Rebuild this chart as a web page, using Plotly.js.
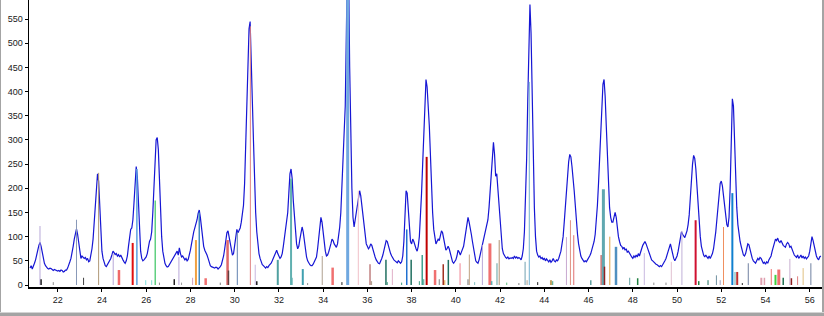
<!DOCTYPE html>
<html><head><meta charset="utf-8">
<script src="https://cdn.plot.ly/plotly-3.0.1.min.js"></script>
<style>
body{margin:0;background:#fff}
#wrap{position:relative;width:824px;height:316px;overflow:hidden;background:#fff}
#chart{position:absolute;left:0;top:0;width:824px;height:316px}
.b{position:absolute;background:#a4a4a4}
</style></head><body>
<div id="wrap"><div id="chart"></div>
<div class="b" style="left:0;top:0;width:1px;height:316px"></div>
<div class="b" style="left:822px;top:0;width:2px;height:316px"></div>
<div class="b" style="left:0;top:312px;width:824px;height:1px;background:#d4d4d4"></div>
<div class="b" style="left:0;top:313px;width:824px;height:3px"></div>
</div>
<script>
// 2-theta positions (degrees)
const twoTheta = [
20.75,20.8,20.85,20.9,20.95,
21,21.05,21.1,21.15,21.2,21.25,21.3,21.35,21.4,21.45,21.5,21.55,21.6,21.65,21.7,21.75,21.8,21.85,21.9,21.95,
22,22.05,22.1,22.15,22.2,22.25,22.3,22.35,22.4,22.45,22.5,22.55,22.6,22.65,22.7,22.75,22.8,22.85,22.9,22.95,
23,23.05,23.1,23.15,23.2,23.25,23.3,23.35,23.4,23.45,23.5,23.55,23.6,23.65,23.7,23.75,23.8,23.85,23.9,23.95,
24,24.05,24.1,24.15,24.2,24.25,24.3,24.35,24.4,24.45,24.5,24.55,24.6,24.65,24.7,24.75,24.8,24.85,24.9,24.95,
25,25.05,25.1,25.15,25.2,25.25,25.3,25.35,25.4,25.45,25.5,25.55,25.6,25.65,25.7,25.75,25.8,25.85,25.9,25.95,
26,26.05,26.1,26.15,26.2,26.25,26.3,26.35,26.4,26.45,26.5,26.55,26.6,26.65,26.7,26.75,26.8,26.85,26.9,26.95,
27,27.05,27.1,27.15,27.2,27.25,27.3,27.35,27.4,27.45,27.5,27.55,27.6,27.65,27.7,27.75,27.8,27.85,27.9,27.95,
28,28.05,28.1,28.15,28.2,28.25,28.3,28.35,28.4,28.45,28.5,28.55,28.6,28.65,28.7,28.75,28.8,28.85,28.9,28.95,
29,29.05,29.1,29.15,29.2,29.25,29.3,29.35,29.4,29.45,29.5,29.55,29.6,29.65,29.7,29.75,29.8,29.85,29.9,29.95,
30,30.05,30.1,30.15,30.2,30.25,30.3,30.35,30.4,30.45,30.5,30.55,30.6,30.65,30.7,30.75,30.8,30.85,30.9,30.95,
31,31.05,31.1,31.15,31.2,31.25,31.3,31.35,31.4,31.45,31.5,31.55,31.6,31.65,31.7,31.75,31.8,31.85,31.9,31.95,
32,32.05,32.1,32.15,32.2,32.25,32.3,32.35,32.4,32.45,32.5,32.55,32.6,32.65,32.7,32.75,32.8,32.85,32.9,32.95,
33,33.05,33.1,33.15,33.2,33.25,33.3,33.35,33.4,33.45,33.5,33.55,33.6,33.65,33.7,33.75,33.8,33.85,33.9,33.95,
34,34.05,34.1,34.15,34.2,34.25,34.3,34.35,34.4,34.45,34.5,34.55,34.6,34.65,34.7,34.75,34.8,34.85,34.9,34.95,
35,35.05,35.1,35.15,35.2,35.25,35.3,35.35,35.4,35.45,35.5,35.55,35.6,35.65,35.7,35.75,35.8,35.85,35.9,35.95,
36,36.05,36.1,36.15,36.2,36.25,36.3,36.35,36.4,36.45,36.5,36.55,36.6,36.65,36.7,36.75,36.8,36.85,36.9,36.95,
37,37.05,37.1,37.15,37.2,37.25,37.3,37.35,37.4,37.45,37.5,37.55,37.6,37.65,37.7,37.75,37.8,37.85,37.9,37.95,
38,38.05,38.1,38.15,38.2,38.25,38.3,38.35,38.4,38.45,38.5,38.55,38.6,38.65,38.7,38.75,38.8,38.85,38.9,38.95,
39,39.05,39.1,39.15,39.2,39.25,39.3,39.35,39.4,39.45,39.5,39.55,39.6,39.65,39.7,39.75,39.8,39.85,39.9,39.95,
40,40.05,40.1,40.15,40.2,40.25,40.3,40.35,40.4,40.45,40.5,40.55,40.6,40.65,40.7,40.75,40.8,40.85,40.9,40.95,
41,41.05,41.1,41.15,41.2,41.25,41.3,41.35,41.4,41.45,41.5,41.55,41.6,41.65,41.7,41.75,41.8,41.85,41.9,41.95,
42,42.05,42.1,42.15,42.2,42.25,42.3,42.35,42.4,42.45,42.5,42.55,42.6,42.65,42.7,42.75,42.8,42.85,42.9,42.95,
43,43.05,43.1,43.15,43.2,43.25,43.3,43.35,43.4,43.45,43.5,43.55,43.6,43.65,43.7,43.75,43.8,43.85,43.9,43.95,
44,44.05,44.1,44.15,44.2,44.25,44.3,44.35,44.4,44.45,44.5,44.55,44.6,44.65,44.7,44.75,44.8,44.85,44.9,44.95,
45,45.05,45.1,45.15,45.2,45.25,45.3,45.35,45.4,45.45,45.5,45.55,45.6,45.65,45.7,45.75,45.8,45.85,45.9,45.95,
46,46.05,46.1,46.15,46.2,46.25,46.3,46.35,46.4,46.45,46.5,46.55,46.6,46.65,46.7,46.75,46.8,46.85,46.9,46.95,
47,47.05,47.1,47.15,47.2,47.25,47.3,47.35,47.4,47.45,47.5,47.55,47.6,47.65,47.7,47.75,47.8,47.85,47.9,47.95,
48,48.05,48.1,48.15,48.2,48.25,48.3,48.35,48.4,48.45,48.5,48.55,48.6,48.65,48.7,48.75,48.8,48.85,48.9,48.95,
49,49.05,49.1,49.15,49.2,49.25,49.3,49.35,49.4,49.45,49.5,49.55,49.6,49.65,49.7,49.75,49.8,49.85,49.9,49.95,
50,50.05,50.1,50.15,50.2,50.25,50.3,50.35,50.4,50.45,50.5,50.55,50.6,50.65,50.7,50.75,50.8,50.85,50.9,50.95,
51,51.05,51.1,51.15,51.2,51.25,51.3,51.35,51.4,51.45,51.5,51.55,51.6,51.65,51.7,51.75,51.8,51.85,51.9,51.95,
52,52.05,52.1,52.15,52.2,52.25,52.3,52.35,52.4,52.45,52.5,52.55,52.6,52.65,52.7,52.75,52.8,52.85,52.9,52.95,
53,53.05,53.1,53.15,53.2,53.25,53.3,53.35,53.4,53.45,53.5,53.55,53.6,53.65,53.7,53.75,53.8,53.85,53.9,53.95,
54,54.05,54.1,54.15,54.2,54.25,54.3,54.35,54.4,54.45,54.5,54.55,54.6,54.65,54.7,54.75,54.8,54.85,54.9,54.95,
55,55.05,55.1,55.15,55.2,55.25,55.3,55.35,55.4,55.45,55.5,55.55,55.6,55.65,55.7,55.75,55.8,55.85,55.9,55.95,
56,56.05,56.1,56.15,56.2,56.25,56.3,56.35,56.4,56.45,56.5
];
const counts = [
35,40,33,42,45,
52,60,72,82,88,80,65,52,45,40,36,34,33,35,34,31,30,32,31,29,
29,30,28,31,30,27,28,31,31,35,40,48,55,65,80,95,108,116,105,85,
65,55,60,58,55,57,52,55,48,50,60,75,95,130,170,210,230,215,170,110,
70,55,45,40,38,42,45,50,55,62,70,67,63,65,60,63,58,62,55,52,
48,45,50,60,80,100,115,118,135,170,215,245,225,170,110,70,55,50,52,55,
58,65,78,90,95,110,150,210,270,300,305,280,220,150,100,70,55,45,40,37,
38,42,45,50,55,58,62,65,70,62,77,65,58,60,57,52,55,50,53,60,
72,85,100,110,118,125,135,148,155,140,115,95,80,72,68,62,55,45,40,38,
37,36,35,37,36,33,35,38,42,50,60,75,95,108,112,100,85,70,62,65,
80,100,115,108,112,118,130,145,165,210,290,380,460,530,545,480,380,300,210,150,
110,85,65,55,48,42,40,37,35,38,36,40,42,45,50,55,60,65,72,65,
60,55,58,65,80,100,120,130,150,190,230,240,220,175,140,110,85,75,80,95,
110,120,110,90,70,58,50,45,42,40,40,43,47,52,58,75,95,120,140,130,
105,85,70,60,62,68,75,85,95,92,85,80,78,85,100,120,150,200,260,310,
370,520,680,660,450,300,200,140,120,135,150,170,185,195,185,165,140,115,95,85,
80,75,78,85,82,72,65,58,52,48,45,44,48,55,62,72,85,92,90,80,
72,65,60,55,52,50,48,46,50,47,45,48,60,90,140,195,190,150,110,90,
85,95,90,80,75,70,80,100,140,190,250,320,390,425,410,380,330,270,200,150,
115,95,85,90,95,92,100,112,108,95,80,72,75,80,75,65,55,48,45,48,
52,60,72,68,62,68,75,80,95,110,125,140,130,120,105,90,75,60,50,47,
45,52,62,72,82,92,100,110,120,135,160,195,215,260,295,270,225,230,200,160,
125,95,75,65,60,57,55,58,54,56,55,57,55,60,56,58,55,57,55,52,
60,75,110,170,260,380,520,580,520,380,250,160,100,70,62,58,60,55,57,52,
56,50,54,50,48,52,47,50,55,50,48,52,50,55,62,70,85,100,130,165,
200,225,255,270,265,245,225,195,165,130,105,85,70,60,55,50,48,50,48,52,
55,60,65,72,80,90,105,130,165,210,270,330,380,415,425,390,330,260,200,160,
140,130,130,140,150,140,115,100,90,82,80,75,78,72,75,68,70,65,62,58,
55,60,57,62,58,65,60,70,75,82,88,90,85,78,70,62,57,52,50,47,
45,43,42,40,38,40,38,42,45,50,55,62,72,80,85,75,62,55,50,55,
60,70,85,100,110,105,100,98,105,112,125,145,180,220,250,268,262,240,200,160,
125,100,80,70,62,58,62,58,55,60,55,60,65,75,90,110,135,165,195,210,
215,205,185,160,140,125,120,140,200,300,385,370,290,210,160,125,105,90,80,70,
62,60,65,75,85,83,72,62,55,50,47,45,50,55,52,57,55,50,45,47,
43,48,45,52,55,60,70,80,88,95,92,97,90,88,92,85,82,80,78,85,
88,85,78,80,72,68,62,60,57,62,55,58,62,56,60,55,58,54,57,60,
70,85,100,92,80,70,60,55,52,58,60
];
// reference pattern stick positions and relative heights
const stickPos = [21.2,21.25,21.8,22.85,23.17,23.85,24.51,24.77,25.39,25.58,25.98,26.25,26.41,26.6,27.27,27.48,27.6,28.1,28.25,28.4,28.69,29.35,29.68,29.72,30.12,30.71,30.93,31.0,31.95,32.55,32.6,33.08,33.3,33.96,34.43,34.85,35.11,35.59,36.12,36.18,36.84,36.9,37.13,37.55,37.78,37.98,38.35,38.48,38.55,38.68,39.06,39.25,39.43,39.5,39.66,40.19,40.55,40.61,40.85,41.2,41.54,41.62,41.86,41.96,42.3,42.85,43.13,43.22,43.32,43.7,44.3,44.38,45.0,45.18,45.33,46.1,46.6,46.67,46.72,46.96,47.24,47.86,48.22,48.52,48.95,49.5,49.74,50.22,50.84,50.98,51.4,51.78,51.95,52.1,52.5,52.62,52.72,52.95,53.22,53.81,53.95,54.26,54.45,54.6,54.8,55.1,55.17,55.45,55.7,56.05];
const stickHeight = [122,12,6,135,15,232,65,31,87,240,10,10,175,5,12,58,5,15,93,150,14,5,93,30,110,535,42,8,52,220,15,33,4,60,36,6,620,195,43,8,52,6,33,5,115,52,8,62,12,265,31,12,43,10,52,45,12,63,6,83,86,8,45,93,5,4,48,10,420,6,10,8,99,134,103,10,62,198,38,100,79,15,14,66,5,5,48,112,134,8,10,20,10,120,190,27,27,4,45,15,15,33,21,32,15,54,14,18,35,45];
// styles for each stick
const stickColor = ["#b8a8d8","#202020","#909090","#8898b8","#404040","#b09878","#b8a8d8","#f06868","#e01010","#5aa0e0","#80e0e0","#80e0d0","#60d080","#909090","#202020","#b8a8d8","#a0a0a0","#d0a0c0","#f0a040","#4088c0","#f07070","#808080","#e06868","#604040","#6080b0","#e08080","#c8b8e0","#202020","#50a0a0","#60b0b0","#60b0b0","#40a0b0","#909090","#b0a090","#f07070","#202020","#70a8e0","#f0c0c8","#c08080","#b0a090","#207060","#40a080","#e0b0c8","#40a080","#2070d0","#207060","#40a080","#40a090","#40a090","#c00000","#f07070","#808080","#a03020","#e0a040","#207060","#f08090","#a0a0a0","#c0a080","#80c0c0","#b8a8d8","#f07070","#60b0b0","#60a0a0","#b09070","#60c080","#808080","#70a0b0","#b0a090","#70b0d0","#202020","#c0a060","#40a080","#c8a8d0","#e09080","#e07070","#60a0a0","#d08080","#60a8b0","#902020","#e0a040","#5090c0","#60a0a0","#208040","#c8b8e0","#909090","#909090","#e0c0d0","#c0b0d8","#d01030","#208040","#207060","#7090a0","#a0a0c0","#f09060","#1080d0","#60b0b0","#c03030","#202020","#7080a0","#e0a0b0","#e0a0b0","#f07070","#40d040","#f07070","#207050","#c8b0d0","#902020","#e08080","#e0c080","#7080a0"];
const stickWidth = [1,1.5,1,1,1,1,1,2.5,2,1.5,1,1,1.5,1,1.5,1,1,1,2,1.5,2.5,1,2.5,1.5,1,1,1,1.5,2,2,1,2,1,1,2.5,1,3,1,1.5,1.5,1.5,1,1,1,1.5,1.5,1,1.5,1,2,2.5,1,1.5,1,1.5,1,1.5,1,1,1,3,1.5,1,1,1,1,1,1,1,1,2,1,1,1,1,1.5,3,3,1.5,1,2.5,1,1.5,1,1,1,1,1,2,1.5,1,1,1,1,2,1,2,1,1,2,1.5,1,2,3,1.5,1,1.5,1,1,1];
const xTicks = [22,24,26,28,30,32,34,36,38,40,42,44,46,48,50,52,54,56];
const yTicks = [0,50,100,150,200,250,300,350,400,450,500,550];

const traces = [{x: twoTheta, y: counts, type: 'scatter', mode: 'lines',
  line: {color: '#1616d4', width: 1.2}, hoverinfo: 'skip'}];
stickPos.forEach((p, i) => traces.push({
  x: [p, p], y: [0, stickHeight[i]], type: 'scatter', mode: 'lines',
  line: {color: stickColor[i], width: stickWidth[i]}, hoverinfo: 'skip'}));

const tickFont = {family: 'Liberation Sans, Arial, sans-serif', size: 9, color: '#202020'};
const layout = {
  width: 824, height: 316, showlegend: false,
  margin: {l: 29, r: 2, t: 0, b: 29, pad: 0},
  paper_bgcolor: 'rgba(0,0,0,0)', plot_bgcolor: '#ffffff',
  xaxis: {range: [20.703, 56.553], tickvals: xTicks, ticks: 'outside', ticklen: 3,
    tickcolor: '#000', showline: true, linecolor: '#000', linewidth: 2,
    showgrid: false, zeroline: false, tickfont: tickFont, fixedrange: true},
  yaxis: {range: [-4.1, 589.4], tickvals: yTicks, ticks: 'outside', ticklen: 3,
    tickcolor: '#000', showline: true, linecolor: '#000', linewidth: 1.5,
    showgrid: false, zeroline: false, tickfont: tickFont, fixedrange: true}
};
Plotly.newPlot('chart', traces, layout, {displayModeBar: false, staticPlot: true});
</script></body></html>
